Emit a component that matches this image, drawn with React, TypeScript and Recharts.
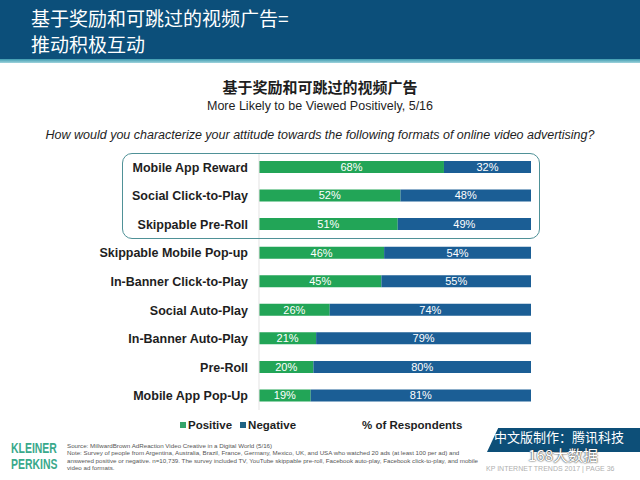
import React from "react";
import { BarChart, Bar, XAxis, YAxis, LabelList } from "recharts";

const categories = [
  "Mobile App Reward",
  "Social Click-to-Play",
  "Skippable Pre-Roll",
  "Skippable Mobile Pop-up",
  "In-Banner Click-to-Play",
  "Social Auto-Play",
  "In-Banner Auto-Play",
  "Pre-Roll",
  "Mobile App Pop-Up",
];
const positiveValues = [68, 52, 51, 46, 45, 26, 21, 20, 19];
const negativeValues = [32, 48, 49, 54, 55, 74, 79, 80, 81];

const data = categories.map((name, i) => ({
  name,
  positive: positiveValues[i],
  negative: negativeValues[i],
}));

const GREEN = "#22a557";
const BLUE = "#1b5e95";
const SANS = "'Liberation Sans', Arial, sans-serif";
const CJK = "'Noto Sans CJK SC', 'Liberation Sans', sans-serif";

const CategoryTick = (props: any) => {
  const { x, y, payload } = props;
  return (
    <text
      x={x - 3}
      y={y}
      dy={4.5}
      textAnchor="end"
      fill="#1e1e1e"
      fontFamily={SANS}
      fontWeight="bold"
      fontSize={12.5}
    >
      {payload.value}
    </text>
  );
};

const brandStyle: React.CSSProperties = {
  position: "absolute",
  left: 11,
  fontFamily: SANS,
  fontWeight: "bold",
  fontSize: 14.5,
  lineHeight: "15px",
  color: "#3aa98b",
  transform: "scaleX(0.72)",
  transformOrigin: "left top",
  whiteSpace: "nowrap",
};

export default function App() {
  return (
    <div
      style={{
        position: "absolute",
        left: 0,
        top: 0,
        width: 640,
        height: 480,
        background: "#ffffff",
        overflow: "hidden",
        fontFamily: SANS,
      }}
    >
      {/* Header band */}
      <div
        style={{
          position: "absolute",
          left: 0,
          top: 0,
          width: 640,
          height: 59,
          background: "#0c4f7a",
        }}
      />
      <div
        style={{
          position: "absolute",
          left: 0,
          top: 59,
          width: 640,
          height: 4,
          background: "linear-gradient(#3d9bb0, #9fd3dc)",
        }}
      />
      <div
        style={{
          position: "absolute",
          left: 31,
          top: 5,
          color: "#ffffff",
          fontFamily: CJK,
          fontSize: 19,
          lineHeight: "26px",
        }}
      >
        <div>基于奖励和可跳过的视频广告=</div>
        <div>推动积极互动</div>
      </div>

      {/* Titles */}
      <div
        style={{
          position: "absolute",
          left: 0,
          top: 77,
          width: 640,
          textAlign: "center",
          fontFamily: CJK,
          fontWeight: "bold",
          fontSize: 15,
          color: "#1e1e1e",
          lineHeight: "20px",
        }}
      >
        基于奖励和可跳过的视频广告
      </div>
      <div
        style={{
          position: "absolute",
          left: 0,
          top: 98,
          width: 640,
          textAlign: "center",
          fontFamily: SANS,
          fontSize: 12.5,
          color: "#1e1e1e",
          lineHeight: "16px",
        }}
      >
        More Likely to be Viewed Positively, 5/16
      </div>
      <div
        style={{
          position: "absolute",
          left: 0,
          top: 127,
          width: 640,
          textAlign: "center",
          fontFamily: SANS,
          fontStyle: "italic",
          fontSize: 12.5,
          color: "#1e1e1e",
          lineHeight: "16px",
        }}
      >
        How would you characterize your attitude towards the following formats of online video advertising?
      </div>

      {/* Chart */}
      <div style={{ position: "absolute", left: 0, top: 0 }}>
        <BarChart
          width={640}
          height={480}
          data={data}
          layout="vertical"
          margin={{ top: 153, right: 109, bottom: 70, left: 0 }}
        >
          <XAxis type="number" domain={[0, 100]} hide />
          <YAxis
            type="category"
            dataKey="name"
            width={259}
            tickLine={false}
            axisLine={{ stroke: "#e3e3e3" }}
            tick={<CategoryTick />}
            interval={0}
          />
          <Bar dataKey="positive" stackId="a" fill={GREEN} barSize={12} isAnimationActive={false}>
            <LabelList
              dataKey="positive"
              position="center"
              formatter={(v: any) => `${v}%`}
              fill="#ffffff"
              fontSize={11}
              fontFamily={SANS}
            />
          </Bar>
          <Bar dataKey="negative" stackId="a" fill={BLUE} barSize={12} isAnimationActive={false}>
            <LabelList
              dataKey="negative"
              position="center"
              formatter={(v: any) => `${v}%`}
              fill="#ffffff"
              fontSize={11}
              fontFamily={SANS}
            />
          </Bar>
        </BarChart>
      </div>

      {/* Highlight box */}
      <div
        style={{
          position: "absolute",
          left: 122,
          top: 153,
          width: 416,
          height: 84,
          border: "1.5px solid #4f9197",
          borderRadius: 10,
          pointerEvents: "none",
        }}
      />

      {/* Legend */}
      <div
        style={{
          position: "absolute",
          left: 180,
          top: 418,
          fontFamily: SANS,
          fontWeight: "bold",
          fontSize: 11.5,
          color: "#1e1e1e",
          lineHeight: "14px",
          display: "flex",
          alignItems: "center",
          whiteSpace: "nowrap",
        }}
      >
        <span style={{ display: "inline-block", width: 6, height: 6, background: "#35a46a", marginRight: 2 }} />
        <span style={{ marginRight: 8 }}>Positive</span>
        <span style={{ display: "inline-block", width: 6, height: 6, background: "#1f6283", marginRight: 2 }} />
        <span>Negative</span>
      </div>
      <div
        style={{
          position: "absolute",
          left: 362,
          top: 418,
          fontFamily: SANS,
          fontWeight: "bold",
          fontSize: 11.5,
          color: "#1e1e1e",
          lineHeight: "14px",
          whiteSpace: "nowrap",
        }}
      >
        % of Respondents
      </div>

      {/* Footer left */}
      <div style={{ ...brandStyle, top: 441 }}>KLEINER</div>
      <div style={{ ...brandStyle, top: 457 }}>PERKINS</div>
      <div
        style={{
          position: "absolute",
          left: 67,
          top: 442,
          width: 412,
          fontFamily: SANS,
          fontSize: 6.2,
          lineHeight: "7.4px",
          color: "#555555",
        }}
      >
        Source: MillwardBrown AdReaction Video Creative in a Digital World (5/16)
        <br />
        Note: Survey of people from Argentina, Australia, Brazil, France, Germany, Mexico, UK, and USA who watched 20 ads (at least 100 per ad) and
        answered positive or negative. n=10,739. The survey included TV, YouTube skippable pre-roll, Facebook auto-play, Facebook click-to-play, and
        mobile video ad formats.
      </div>

      {/* Footer right */}
      <div
        style={{
          position: "absolute",
          left: 487,
          top: 428,
          width: 170,
          height: 24,
          background: "#0d4f78",
          transform: "skewX(-25deg)",
          transformOrigin: "left bottom",
        }}
      />
      <div
        style={{
          position: "absolute",
          left: 494,
          top: 428,
          fontFamily: CJK,
          fontSize: 13,
          lineHeight: "18px",
          color: "#ffffff",
          whiteSpace: "nowrap",
        }}
      >
        中文版制作：腾讯科技
      </div>
      <div
        style={{
          position: "absolute",
          left: 528,
          top: 446,
          fontFamily: CJK,
          fontSize: 15,
          lineHeight: "18px",
          color: "#ffffff",
          whiteSpace: "nowrap",
          textShadow: "0 0 2px #444, 0 0 1px #333",
        }}
      >
        168大数据
      </div>
      <div
        style={{
          position: "absolute",
          left: 486,
          top: 465,
          fontFamily: SANS,
          fontSize: 7,
          lineHeight: "8px",
          color: "#b0b0b0",
          whiteSpace: "nowrap",
        }}
      >
        KP INTERNET TRENDS 2017 | PAGE 36
      </div>
    </div>
  );
}
